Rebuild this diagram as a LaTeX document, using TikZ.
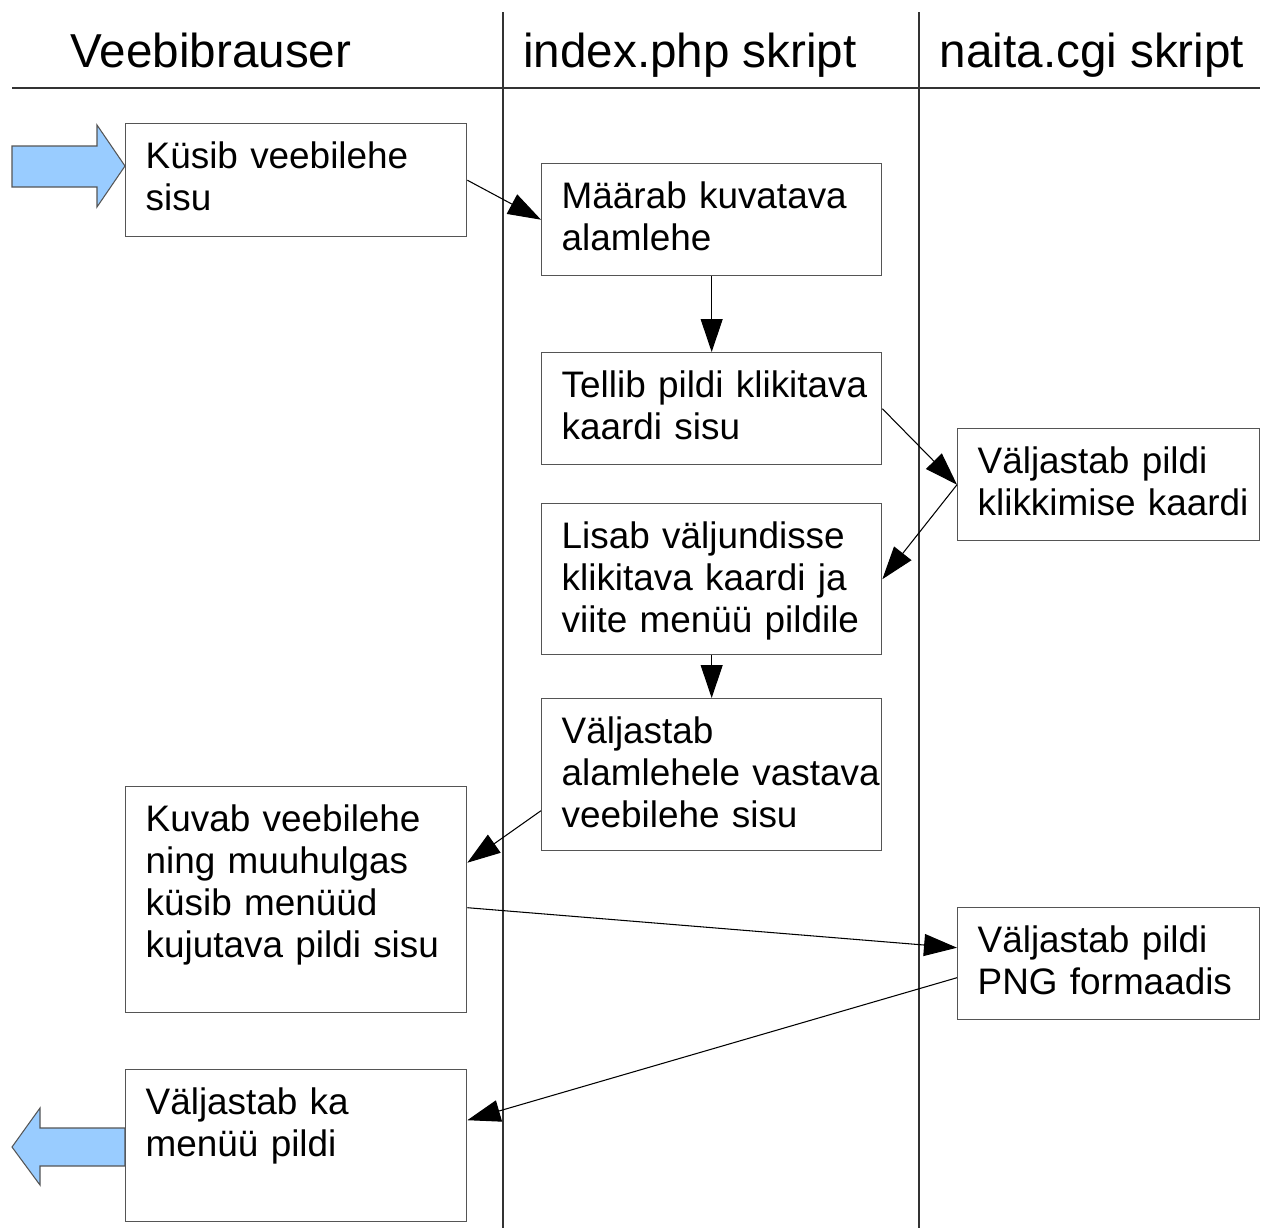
\documentclass[tikz,border=0pt]{standalone}
\usepackage{fontspec}
\setmainfont{Liberation Sans}
\usetikzlibrary{arrows.meta}

\definecolor{boxgray}{HTML}{555555}
\definecolor{lanegray}{HTML}{333333}
\definecolor{flowblue}{HTML}{99CCFF}

\newcommand{\boxfont}{\fontsize{21pt}{23.9pt}\selectfont}
\newcommand{\headfont}{\fontsize{27.1pt}{30pt}\selectfont}

\tikzset{
  box/.style={draw=boxgray, line width=0.8pt, anchor=north west, align=left,
    inner xsep=0.4cm, inner ysep=0pt, text height=0.9cm, font=\boxfont},
  lane/.style={draw=lanegray, line width=0.7pt},
  head/.style={anchor=base, font=\headfont},
  flow/.style={-{Triangle[length=0.66cm,width=0.44cm]}, line width=0.6pt},
  bigarrow/.style={fill=flowblue, draw=boxgray, line width=0.6pt}
}

\begin{document}
\begin{tikzpicture}[x=0.02cm, y=-0.02cm]
  \useasboundingbox (0,0) rectangle (1263,1228);

  % swimlanes
  \draw[lane] (503,12) -- (503,1228);
  \draw[lane] (919,12) -- (919,1228);
  \draw[lane] (12,88) -- (1260,88);
  \node[head] (hbrowser) at (211,67) {Veebibrauser};
  \node[head] (hindex) at (690,67) {index.php skript};
  \node[head] (hnaita) at (1092,67) {naita.cgi skript};

  % steps
  \node[box, text width=6.02cm, text depth=1.36cm] (kysib) at (125,123)
    {Küsib veebilehe\\sisu};
  \node[box, text width=6.0cm, text depth=1.34cm] (maarab) at (541,163)
    {Määrab kuvatava\\alamlehe};
  \node[box, text width=6.0cm, text depth=1.34cm] (tellib) at (541,352)
    {\mbox{Tellib pildi klikitava}\\kaardi sisu};
  \node[box, text width=5.24cm, text depth=1.34cm] (kaart) at (957,428)
    {Väljastab pildi\\\mbox{klikkimise kaardi}};
  \node[box, text width=6.0cm, text depth=2.12cm] (lisab) at (541,503)
    {Lisab väljundisse\\klikitava kaardi ja\\viite menüü pildile};
  \node[box, text width=6.0cm, text depth=2.14cm] (leht) at (541,698)
    {Väljastab\\\mbox{alamlehele vastava}\\veebilehe sisu};
  \node[box, text width=6.02cm, text depth=3.62cm] (kuvab) at (125,786)
    {Kuvab veebilehe\\ning muuhulgas\\küsib menüüd\\kujutava pildi sisu};
  \node[box, text width=5.24cm, text depth=1.34cm] (png) at (957,907)
    {Väljastab pildi\\PNG formaadis};
  \node[box, text width=6.02cm, text depth=2.14cm] (menyy) at (125,1069)
    {Väljastab ka\\menüü pildi};

  % in and out
  \path[bigarrow] (12,146) -- (97,146) -- (97,125) -- (125,166)
    -- (97,207) -- (97,187) -- (12,187) -- cycle;
  \path[bigarrow] (125,1128) -- (40,1128) -- (40,1108) -- (12,1147)
    -- (40,1185) -- (40,1166) -- (125,1166) -- cycle;

  % connectors
  \draw[flow] (kysib.east) -- (maarab.west);
  \draw[flow] (maarab.south) -- (tellib.north);
  \draw[flow] (tellib.east) -- (kaart.west);
  \draw[flow] (kaart.west) -- (lisab.east);
  \draw[flow] (lisab.south) -- (leht.north);
  \draw[flow] ([yshift=-0.72cm]leht.west) -- ([yshift=0.74cm]kuvab.east);
  \draw[flow] ([yshift=-0.16cm]kuvab.east) -- ([yshift=0.32cm]png.west);
  \draw[flow] ([yshift=-0.28cm]png.west) -- ([yshift=0.51cm]menyy.east);
\end{tikzpicture}
\end{document}
